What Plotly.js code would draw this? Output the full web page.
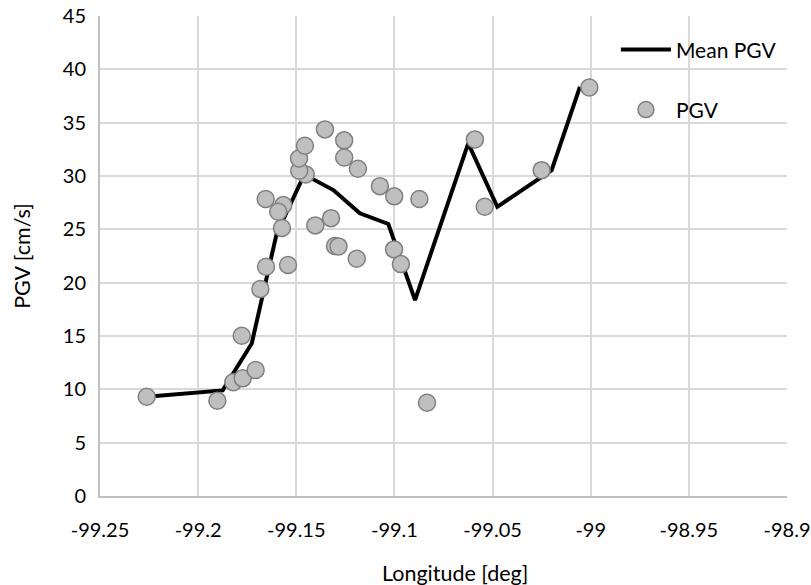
<!DOCTYPE html>
<html>
<head>
<meta charset="utf-8">
<script src="https://cdn.plot.ly/plotly-3.0.1.min.js"></script>
<style>html,body{margin:0;padding:0;background:#fff;}#chart{width:811px;height:585px;}</style>
</head>
<body>
<div id="chart"></div>
<script>
// Mean PGV line
const meanLon = [-99.2262, -99.1875, -99.1727, -99.1600, -99.1473, -99.1430, -99.1311, -99.1176, -99.1031, -99.0895, -99.0624, -99.0476, -99.0199, -99.0055];
const meanPGV = [9.31, 9.90, 14.30, 24.60, 29.60, 29.85, 28.68, 26.50, 25.50, 18.37, 33.06, 27.11, 30.55, 38.36];

// PGV observations
const pgvLon = [-99.2262, -99.1902, -99.1821, -99.1773, -99.1707, -99.1778, -99.1683, -99.1654, -99.1542, -99.1573,
                -99.1566, -99.1592, -99.1656, -99.1452, -99.1485, -99.1486, -99.1456, -99.1354, -99.1256, -99.1256,
                -99.1186, -99.1403, -99.1323, -99.1303, -99.1285, -99.1192, -99.1074, -99.1001, -99.0873, -99.1002,
                -99.0967, -99.0834, -99.0590, -99.0540, -99.0250, -99.0007];
const pgvVal = [9.31, 8.93, 10.66, 11.03, 11.81, 15.02, 19.40, 21.49, 21.65, 25.12,
                27.27, 26.65, 27.84, 30.15, 30.49, 31.65, 32.83, 34.37, 33.34, 31.74,
                30.68, 25.37, 26.05, 23.43, 23.40, 22.24, 29.05, 28.09, 27.84, 23.12,
                21.74, 8.75, 33.43, 27.11, 30.55, 38.30];

const xTicks = [-99.25, -99.2, -99.15, -99.1, -99.05, -99, -98.95, -98.9];
const xTickText = ['-99.25', '-99.2', '-99.15', '-99.1', '-99.05', '-99', '-98.95', '-98.9'];
const yTicks = [0, 5, 10, 15, 20, 25, 30, 35, 40, 45];
const xTitle = 'Longitude [deg]';
const yTitle = 'PGV [cm/s]';

const FONT = 'Lato, "Open Sans", sans-serif';

const traces = [
  {
    x: meanLon, y: meanPGV, type: 'scatter', mode: 'lines', name: 'Mean PGV',
    line: {color: '#000000', width: 4}, legend: 'legend'
  },
  {
    x: pgvLon, y: pgvVal, type: 'scatter', mode: 'markers', name: 'PGV',
    marker: {size: 17, color: '#bfbfbf', line: {color: '#7f7f7f', width: 1.5}}, legend: 'legend2'
  }
];

const layout = {
  width: 811, height: 585,
  margin: {l: 100, r: 24, t: 16, b: 89},
  paper_bgcolor: '#ffffff', plot_bgcolor: '#ffffff',
  font: {family: FONT, size: 20, color: '#000000'},
  xaxis: {
    range: [-99.25, -98.9], tickvals: xTicks, ticktext: xTickText,
    showgrid: true, gridcolor: '#d9d9d9', gridwidth: 2,
    showline: true, linecolor: '#bfbfbf', linewidth: 2, mirror: false,
    zeroline: false, ticks: '', ticklabelstandoff: 15,
    tickfont: {size: 20}
  },
  yaxis: {
    range: [0, 45], tickvals: yTicks,
    showgrid: true, gridcolor: '#d9d9d9', gridwidth: 2,
    showline: true, linecolor: '#bfbfbf', linewidth: 2,
    zeroline: false, ticks: '', ticklabelstandoff: 8,
    tickfont: {size: 20},
    title: {text: yTitle, font: {size: 21.5}, standoff: 26}
  },
  annotations: [
    {text: xTitle, xref: 'paper', yref: 'paper', x: 0.517, y: -0.161,
     xanchor: 'center', yanchor: 'middle', showarrow: false, font: {size: 21.5}}
  ],
  showlegend: true,
  legend: {x: 0.751, y: 0.972, xanchor: 'left', yanchor: 'top', bgcolor: 'rgba(0,0,0,0)', itemwidth: 50, font: {size: 21}},
  legend2: {x: 0.751, y: 0.847, xanchor: 'left', yanchor: 'top', bgcolor: 'rgba(0,0,0,0)', itemwidth: 50, font: {size: 21}}
};

Plotly.newPlot('chart', traces, layout, {displayModeBar: false, staticPlot: true});
</script>
</body>
</html>
